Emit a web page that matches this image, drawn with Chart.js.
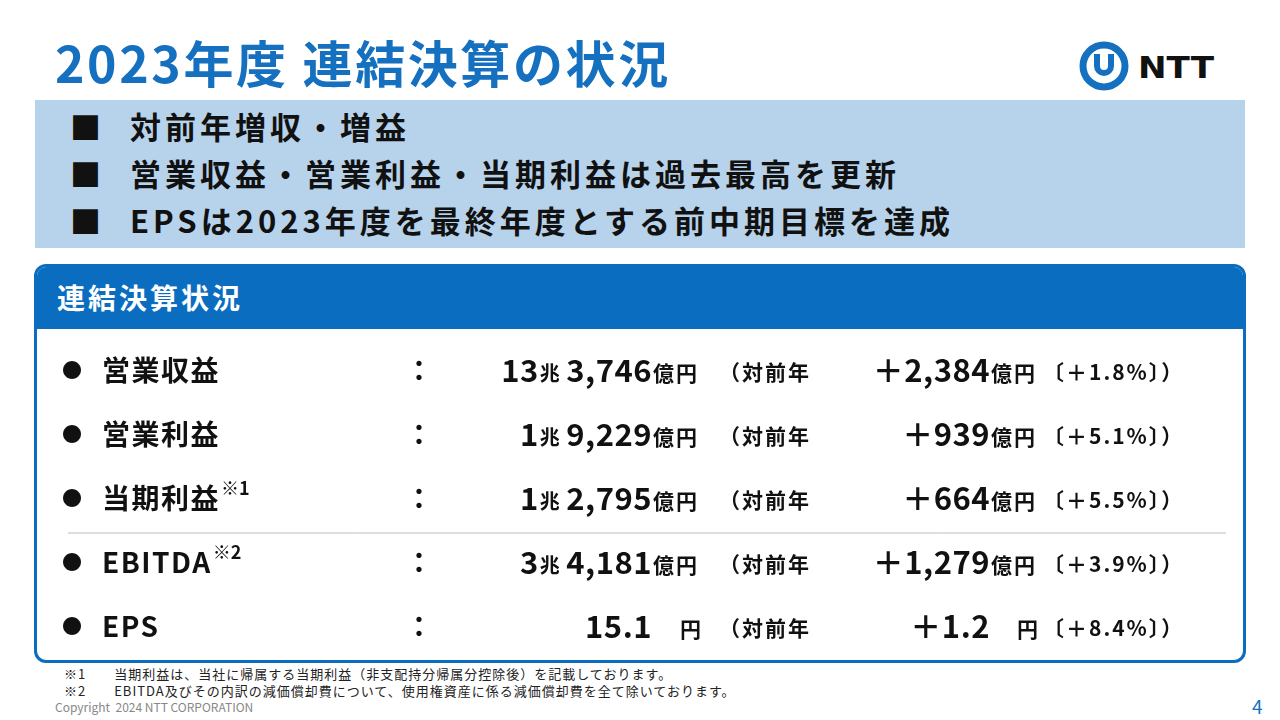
<!DOCTYPE html>
<html><head><meta charset="utf-8">
<script src="https://cdn.jsdelivr.net/npm/chart.js@4"></script>
<style>
body{margin:0;width:1280px;height:720px;background:#fff;font-family:"Noto Sans CJK JP","Noto Sans",sans-serif;position:relative;overflow:hidden}
.abs{position:absolute}
#title{left:55px;top:25px;font-size:50px;font-weight:bold;color:#1570bf;letter-spacing:2.6px;white-space:nowrap}
#band{left:35px;top:100px;width:1210px;height:148px;background:#b7d3ec}
.bl{left:70px;font-size:31px;font-weight:bold;color:#111;line-height:40px}
.bl span{position:absolute;left:60px;white-space:nowrap;letter-spacing:4px}
#box{left:34px;top:264px;width:1206px;height:393px;border:3px solid #0b6dbf;border-radius:12px;overflow:hidden}
#hdr{left:0;top:0;width:100%;height:62px;background:#0b6dbf;color:#fff;font-size:28px;font-weight:bold;letter-spacing:3px}
#hdr span{position:absolute;left:20px;top:10px}
.fn{font-size:13px;color:#222;white-space:nowrap;letter-spacing:1px}
</style></head><body>
<div id="title" class="abs">2023年度 連結決算の状況</div>
<svg class="abs" style="left:1078px;top:40px" width="150" height="52">
<circle cx="26" cy="26" r="21" fill="none" stroke="#1570bf" stroke-width="7"/>
<path d="M19 14 v12 a7 7 0 0 0 14 0 v-12" fill="none" stroke="#1570bf" stroke-width="6"/>
<text x="60" y="38" font-family="DejaVu Sans" font-weight="bold" font-size="31" fill="#111" textLength="76" lengthAdjust="spacingAndGlyphs">NTT</text>
</svg>
<div id="band" class="abs"></div>
<div id="bullets"></div>
<div id="box" class="abs"><div id="hdr" class="abs"><span>連結決算状況</span></div></div>
<canvas id="c" class="abs" width="1204" height="330" style="left:37px;top:328px"></canvas>
<div class="abs fn" style="left:64px;top:664px">※1　　当期利益は、当社に帰属する当期利益（非支配持分帰属分控除後）を記載しております。</div>
<div class="abs fn" style="left:64px;top:681px">※2　　EBITDA及びその内訳の減価償却費について、使用権資産に係る減価償却費を全て除いております。</div>
<div class="abs" style="left:55px;top:698px;font-size:12px;color:#888">Copyright&nbsp; 2024 NTT CORPORATION</div>
<div class="abs" style="left:1252px;top:692px;font-size:19px;color:#1570bf">4</div>
<script>
const bulletLines = ['対前年増収・増益', '営業収益・営業利益・当期利益は過去最高を更新', 'EPSは2023年度を最終年度とする前中期目標を達成'];
const rowLabels = ['営業収益', '営業利益', '当期利益', 'EBITDA', 'EPS'];
const labelNotes = ['', '', '※1', '※2', ''];
const trillions = ['13', '1', '1', '3', ''];
const billions = ['3,746', '9,229', '2,795', '4,181', '15.1'];
const units = ['億円', '億円', '億円', '億円', '円'];
const changes = ['＋2,384', '＋939', '＋664', '＋1,279', '＋1.2'];
const changePct = ['＋1.8%', '＋5.1%', '＋5.5%', '＋3.9%', '＋8.4%'];

const bl = document.getElementById('bullets');
bulletLines.forEach((t, i) => {
  const d = document.createElement('div');
  d.className = 'abs bl';
  d.style.top = (106 + i * 47) + 'px';
  d.innerHTML = '■<span>' + t + '</span>';
  bl.appendChild(d);
});

const F = '"Noto Sans CJK JP", sans-serif';
const rowText = {
  id: 'rowText',
  afterDraw(chart) {
    const ctx = chart.ctx;
    const y = chart.scales.y;
    ctx.save();
    ctx.textBaseline = 'middle';
    ctx.fillStyle = '#111';
    rowLabels.forEach((lab, i) => {
      const py = y.getPixelForValue(i);
      ctx.letterSpacing = '0px';
      ctx.textAlign = 'left';
      ctx.font = 'bold 20px ' + F;
      ctx.fillText('●', 25, py);
      ctx.font = 'bold 28px ' + F;
      ctx.letterSpacing = '1.5px';
      ctx.fillText(lab, 65, py);
      if (labelNotes[i]) {
        const w = ctx.measureText(lab).width;
        ctx.font = 'bold 18px ' + F;
        ctx.letterSpacing = '0px';
        ctx.fillText(labelNotes[i], 66 + w, py - 10);
      }
      ctx.letterSpacing = '0px';
      ctx.font = 'bold 28px ' + F;
      ctx.fillText('：', 368, py);
      ctx.letterSpacing = '0.5px';
      ctx.textAlign = 'right';
      ctx.font = 'bold 31px ' + F;
      ctx.fillText(billions[i], 615, py);
      let x = 615 - ctx.measureText(billions[i]).width - 6;
      if (trillions[i]) {
        ctx.font = 'bold 20px ' + F;
        ctx.fillText('兆', x, py + 3);
        x -= ctx.measureText('兆').width + 1;
        ctx.font = 'bold 31px ' + F;
        ctx.fillText(trillions[i], x, py);
      }
      ctx.textAlign = 'left';
      ctx.font = 'bold 21px ' + F;
      ctx.letterSpacing = '2px';
      const ux = units[i] === '円' ? 643 : 616;
      ctx.fillText(units[i], ux, py + 3);
      ctx.fillText('（対前年', 682, py + 2);
      ctx.letterSpacing = '0.5px';
      ctx.textAlign = 'right';
      ctx.font = 'bold 31px ' + F;
      ctx.fillText(changes[i], 953, py);
      ctx.textAlign = 'left';
      ctx.font = 'bold 21px ' + F;
      ctx.letterSpacing = '2px';
      ctx.fillText(units[i], units[i] === '円' ? 980 : 954, py + 3);
      ctx.fillText('〔' + changePct[i] + '〕）', 1006, py + 2);
    });
    const sy = (y.getPixelForValue(2) + y.getPixelForValue(3)) / 2 + 3;
    ctx.strokeStyle = '#bbb';
    ctx.lineWidth = 1;
    ctx.beginPath(); ctx.moveTo(31, sy); ctx.lineTo(1189, sy); ctx.stroke();
    ctx.restore();
  }
};

new Chart(document.getElementById('c'), {
  type: 'bar',
  data: { labels: rowLabels, datasets: [{ data: rowLabels.map(() => 0) }] },
  options: {
    responsive: false, animation: false, indexAxis: 'y',
    layout: { padding: { top: 10, bottom: 0 } },
    scales: { x: { display: false }, y: { display: false } },
    plugins: { legend: { display: false }, tooltip: { enabled: false } }
  },
  plugins: [rowText]
});
</script>
</body></html>
